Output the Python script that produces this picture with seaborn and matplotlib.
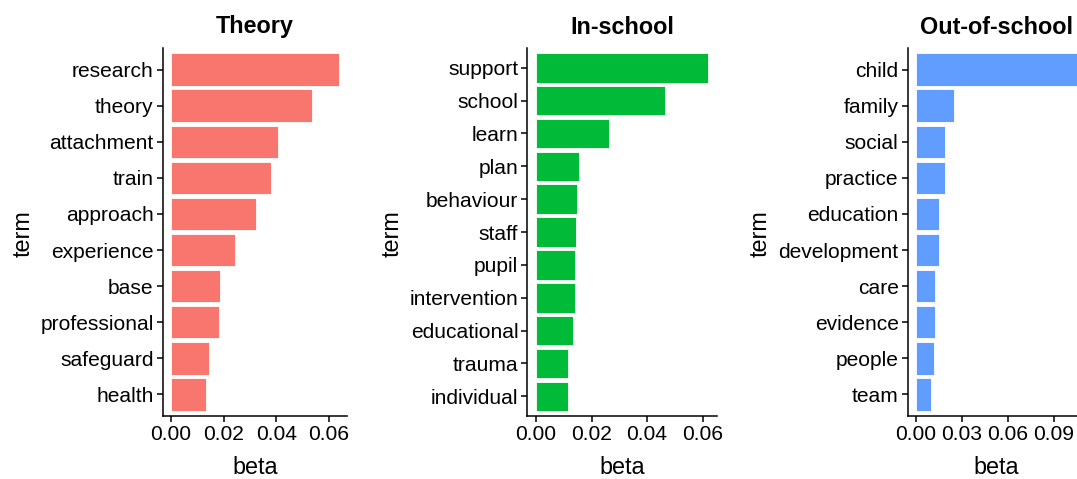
import numpy as np
import pandas as pd
import matplotlib
matplotlib.use("Agg")
import matplotlib.pyplot as plt
import seaborn as sns

# -----------------------------
# Data (top terms per topic)
# -----------------------------
theory_terms = ["research", "theory", "attachment", "train", "approach",
                "experience", "base", "professional", "safeguard", "health"]
theory_beta = [0.0638, 0.0537, 0.0408, 0.0378, 0.0324,
               0.0244, 0.0185, 0.0182, 0.0143, 0.0132]

inschool_terms = ["support", "school", "learn", "plan", "behaviour", "staff",
                  "pupil", "intervention", "educational", "trauma", "individual"]
inschool_beta = [0.0620, 0.0463, 0.0262, 0.0154, 0.0148, 0.0145,
                 0.0142, 0.0142, 0.0133, 0.0114, 0.0114]

outschool_terms = ["child", "family", "social", "practice", "education",
                   "development", "care", "evidence", "people", "team"]
outschool_beta = [0.1050, 0.0247, 0.0190, 0.0190, 0.0150,
                  0.0150, 0.0128, 0.0126, 0.0117, 0.0099]

titles = ["Theory", "In-school", "Out-of-school"]
colors = ["#F8766D", "#00BA38", "#619CFF"]
x_ticks = [[0.00, 0.02, 0.04, 0.06], [0.00, 0.02, 0.04, 0.06], [0.00, 0.03, 0.06, 0.09]]

W, H = 1077, 479
# panel left / right edges in pixels (third panel runs past the right edge)
panel_px = [(162.6, 347.4), (527.4, 716.8), (907.6, 1085.0)]
TOP_PX, BOTTOM_PX = 48, 416

FONT = ["Liberation Sans", "DejaVu Sans"]

sns.set_style("white")
plt.rcParams["font.family"] = FONT
plt.rcParams["text.color"] = "black"


def px_text(fig, x, y, s, **kw):
    fig.text(x / W, 1 - y / H, s, ha="center", va="center", color="black", **kw)


def main():
    fig = plt.figure(figsize=(W / 100, H / 100), dpi=100)

    panels = [(theory_terms, theory_beta), (inschool_terms, inschool_beta),
              (outschool_terms, outschool_beta)]

    for i, (terms, beta) in enumerate(panels):
        l, r = panel_px[i]
        ax = fig.add_axes([l / W, 1 - BOTTOM_PX / H, (r - l) / W, (BOTTOM_PX - TOP_PX) / H])
        df = pd.DataFrame({"term": terms, "beta": beta})
        sns.barplot(data=df, x="beta", y="term", orient="h", color=colors[i],
                    width=0.9, edgecolor="white", linewidth=0.6, saturation=1, ax=ax)

        n = len(terms)
        bmax = max(beta)
        ax.set_ylim(n - 1 + 0.6, -0.6)
        ax.set_xlim(-0.05 * bmax, 1.05 * bmax)
        ax.set_xticks(x_ticks[i])
        ax.set_xticklabels([f"{t:.2f}" for t in x_ticks[i]])

        for side in ["top", "right"]:
            ax.spines[side].set_visible(False)
        for side in ["left", "bottom"]:
            ax.spines[side].set_color("black")
            ax.spines[side].set_linewidth(1.1)
        ax.tick_params(axis="both", which="both", length=4, width=1.1, color="black",
                       labelsize=15.1, labelcolor="black", pad=2.5, left=True, bottom=True)
        ax.set_xlabel("")
        ax.set_ylabel("")

        cx = (l + r) / 2
        px_text(fig, cx, 27, titles[i], fontsize=16.8, fontweight="bold")
        px_text(fig, cx, 468, "beta", fontsize=16.8)

    for x in [23, 392, 760]:
        px_text(fig, x, 234, "term", fontsize=16.8, rotation=90)

    fig.savefig("out.png", dpi=100)
    plt.close(fig)


if __name__ == "__main__":
    main()
